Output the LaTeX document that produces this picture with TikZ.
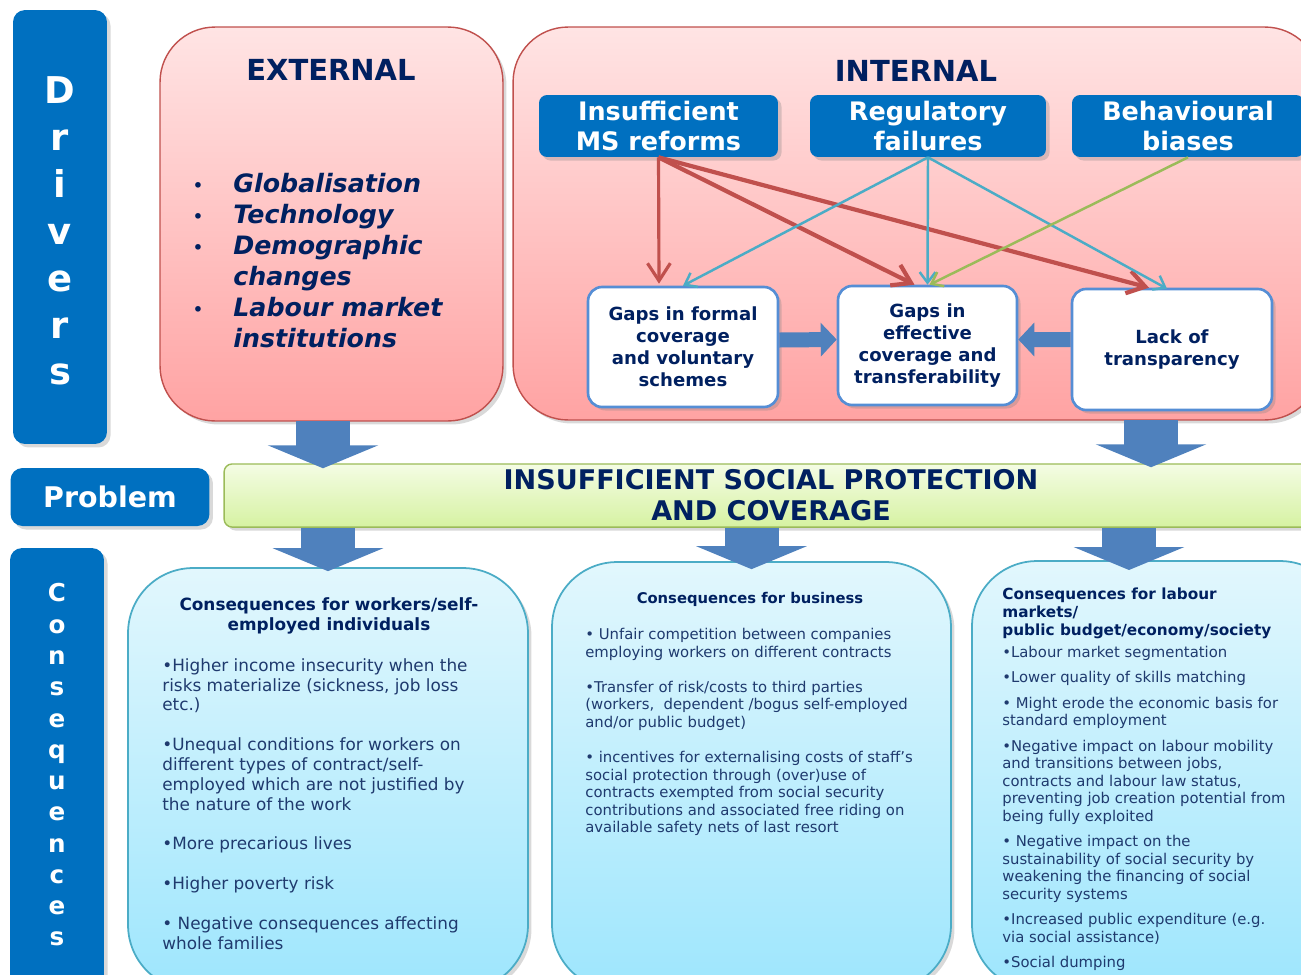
\documentclass[tikz,border=0pt]{standalone}
\usepackage{fontspec}
\setmainfont{DejaVu Sans}
\usetikzlibrary{arrows.meta,calc,shadows}

\definecolor{msblue}{HTML}{0070C0}
\definecolor{navy}{HTML}{002060}
\definecolor{textnavy}{HTML}{1F3A6E}
\definecolor{arrblue}{HTML}{4F81BD}
\definecolor{boxblue}{HTML}{558ED5}
\definecolor{redline}{HTML}{C0504D}
\definecolor{cyanline}{HTML}{4BACC6}
\definecolor{greenline}{HTML}{9BBB59}
\definecolor{pinktop}{HTML}{FFE4E4}
\definecolor{pinkbot}{HTML}{FFA3A3}
\definecolor{limetop}{HTML}{F4FCE4}
\definecolor{limebot}{HTML}{D6F2A2}
\definecolor{skytop}{HTML}{E2F7FD}
\definecolor{skybot}{HTML}{9EE6FD}

\tikzset{
	softshadow/.style={drop shadow={opacity=0.3,shadow xshift=2pt,shadow yshift=-2pt}},
	sidebox/.style={rectangle, rounded corners=0.24cm, fill=msblue, text=white, align=center, inner sep=0pt, softshadow},
	sidetext/.style={text=white, align=center, inner sep=0pt},
	pinkbox/.style={rectangle, rounded corners=1.1cm, top color=pinktop, bottom color=pinkbot, draw=redline, line width=0.8pt, softshadow},
	hdrbox/.style={rectangle, rounded corners=0.16cm, fill=msblue, text=white, align=center, inner sep=0pt, minimum height=1.24cm, font=\fontsize{14.5}{17.6}\selectfont\bfseries, softshadow},
	gapbox/.style={rectangle, rounded corners=0.28cm, fill=white, draw=boxblue, line width=1.5pt, text=navy, align=center, inner sep=0pt, font=\fontsize{10.3}{12.5}\selectfont\bfseries, softshadow},
	limebar/.style={rectangle, rounded corners=0.16cm, top color=limetop, bottom color=limebot, draw=greenline, line width=0.8pt, text=navy, align=center, font=\fontsize{15.4}{17.6}\selectfont\bfseries, softshadow},
	skybox/.style={rectangle, rounded corners=1.3cm, top color=skytop, bottom color=skybot, draw=cyanline, line width=1pt, softshadow},
	bigtitle/.style={text=navy, font=\fontsize{16.5}{20}\selectfont\bfseries},
	contitle/.style={text=navy, align=center, inner sep=0pt},
	conbody/.style={text=textnavy, align=left, anchor=north west, inner sep=0pt},
	redarr/.style={draw=redline, line width=2.4pt, -{Straight Barb[length=10pt,width=13pt]}},
	cyanarr/.style={draw=cyanline, line width=1.4pt, -{Straight Barb[length=6pt,width=9pt]}},
	greenarr/.style={draw=greenline, line width=1.4pt, -{Straight Barb[length=6pt,width=9pt]}},
	sidearr/.style={draw=arrblue, line width=0.3cm, -{Triangle[length=0.32cm,width=0.66cm]}},
	downarr/.style={draw=arrblue, line width=1.08cm, -{Triangle[length=0.46cm,width=2.2cm]}}
}
\newcommand{\extbullet}{\makebox[0.82cm][l]{\fontsize{11}{11}\selectfont\mdseries\upshape •}}

\begin{document}
\begin{tikzpicture}[x=0.02cm, y=-0.02cm]
	\useasboundingbox (0,0) rectangle (1301,974);
	\clip (0,0) rectangle (1301,974);

	\node[sidebox, minimum width=1.88cm, minimum height=8.68cm] (drivers) at (60,227) {};
	\node[sidetext, font=\fontsize{21}{26.7}\selectfont\bfseries] (driverstxt) at (60,231) {D\\r\\i\\v\\e\\r\\s};
	\node[sidebox, minimum width=3.98cm, minimum height=1.16cm, font=\fontsize{16.2}{18}\selectfont\bfseries] (problemlbl) at (110,497) {Problem};
	\node[sidebox, minimum width=1.88cm, minimum height=8.84cm] (conslbl) at (57,769) {};
	\node[sidetext, font=\fontsize{14}{17.8}\selectfont\bfseries] (conslbltxt) at (57,765) {C\\o\\n\\s\\e\\q\\u\\e\\n\\c\\e\\s};

	\node[pinkbox, minimum width=6.86cm, minimum height=7.88cm] (external) at (331.5,224) {};
	\node[bigtitle] (exttitle) at (331,70) {EXTERNAL};
	\node[anchor=north west, inner sep=0pt, align=left, text=navy, font=\fontsize{14.4}{17.6}\selectfont\bfseries\itshape] (extlist) at (192,173)
		{\extbullet Globalisation\\
		 \extbullet Technology\\
		 \extbullet Demographic\\
		 \hspace*{0.82cm}changes\\
		 \extbullet Labour market\\
		 \hspace*{0.82cm}institutions};

	\node[pinkbox, minimum width=16.14cm, minimum height=7.86cm] (internal) at (916.5,223.5) {};
	\node[bigtitle] (inttitle) at (916,71) {INTERNAL};

	\node[hdrbox, minimum width=4.78cm] (msref) at (658.5,126) {Insufficient\\MS reforms};
	\node[hdrbox, minimum width=4.72cm] (regfail) at (928,126) {Regulatory\\failures};
	\node[hdrbox, minimum width=4.64cm] (behav) at (1188,126) {Behavioural\\biases};

	\node[gapbox, minimum width=3.8cm, minimum height=2.4cm] (gapformal) at (683,347) {Gaps in formal\\coverage\\and voluntary\\schemes};
	\node[gapbox, minimum width=3.58cm, minimum height=2.38cm] (gapeff) at (927.5,345.5) {Gaps in\\effective\\coverage and\\transferability};
	\node[gapbox, minimum width=4.0cm, minimum height=2.42cm] (lacktr) at (1172,349.5) {Lack of\\transparency};

	\draw[redarr, line width=1.8pt] (msref.south) -- ($(gapformal.north)+(-24,-2)$);
	\draw[redarr] (msref.south) -- ($(gapeff.north)+(-13,0)$);
	\draw[redarr] (msref.south) -- ($(lacktr.north)+(-23,0)$);
	\draw[cyanarr] (regfail.south) -- (gapformal.north);
	\draw[cyanarr] (regfail.south) -- (gapeff.north);
	\draw[cyanarr] (regfail.south) -- ($(lacktr.north)+(-5,1)$);
	\draw[greenarr] (behav.south) -- ($(gapeff.north)+(2,0)$);

	\draw[sidearr] ([yshift=0.14cm]gapformal.east) -- ([yshift=0.12cm]gapeff.west);
	\draw[sidearr] ([yshift=0.2cm]lacktr.west) -- ([yshift=0.12cm]gapeff.east);

	\node[limebar, minimum width=21.88cm, minimum height=1.26cm] (problem) at (771,495.5) {INSUFFICIENT SOCIAL PROTECTION\\AND COVERAGE};

	\coordinate (extdrop) at (323,421);
	\coordinate (intdrop) at (1151,420);
	\draw[downarr, shorten >=-0.1cm] (extdrop) -- (extdrop |- problem.north);
	\draw[downarr, shorten >=-0.08cm] (intdrop) -- (intdrop |- problem.north);

	\node[skybox, minimum width=8cm, minimum height=8.44cm] (conw) at (328,779) {};
	\node[skybox, minimum width=7.98cm, minimum height=8.56cm] (conb) at (751.5,776) {};
	\node[skybox, minimum width=7.46cm, minimum height=8.58cm] (conl) at (1158.5,775.5) {};
	\coordinate (conltop) at (1129,561);

	\draw[downarr, shorten >=-0.08cm] (problem.south -| conw.north) -- (conw.north);
	\draw[downarr, shorten >=-0.16cm] (problem.south -| conb.north) -- (conb.north);
	\draw[downarr, shorten >=-0.18cm] (problem.south -| conltop) -- (conltop);

	\node[contitle, font=\fontsize{9.6}{11.2}\selectfont\bfseries] (conwtitle) at (329,616) {Consequences for workers/self-\\employed individuals};
	\node[conbody, font=\fontsize{9.6}{11.3}\selectfont] (conwtext) at (162,658)
		{•Higher income insecurity when the\\
		 risks materialize (sickness, job loss\\
		 etc.)\\[11.3pt]
		 •Unequal conditions for workers on\\
		 different types of contract/self-\\
		 employed which are not justified by\\
		 the nature of the work\\[11.3pt]
		 •More precarious lives\\[11.3pt]
		 •Higher poverty risk\\[11.3pt]
		 • Negative consequences affecting\\
		 whole families};

	\node[contitle, font=\fontsize{8.4}{10}\selectfont\bfseries] (conbtitle) at (750,599) {Consequences for business};
	\node[conbody, font=\fontsize{8.45}{10}\selectfont] (conbtext) at (585,628)
		{• Unfair competition between companies\\
		 employing workers on different contracts\\[10pt]
		 •Transfer of risk/costs to third parties\\
		 (workers,\ \ dependent /bogus self-employed\\
		 and/or public budget)\\[10pt]
		 • incentives for externalising costs of staff's\\
		 social protection through (over)use of\\
		 contracts exempted from social security\\
		 contributions and associated free riding on\\
		 available safety nets of last resort};

	\node[contitle, align=left, anchor=north west, font=\fontsize{8.7}{10.2}\selectfont\bfseries] (conltitle) at (1002,588) {Consequences for labour\\markets/\\public budget/economy/society};
	\node[conbody, font=\fontsize{8.45}{10}\selectfont] (conltext) at (1002,646)
		{•Labour market segmentation\\[4.4pt]
		 •Lower quality of skills matching\\[4.4pt]
		 • Might erode the economic basis for\\
		 standard employment\\[4.4pt]
		 •Negative impact on labour mobility\\
		 and transitions between jobs,\\
		 contracts and labour law status,\\
		 preventing job creation potential from\\
		 being fully exploited\\[4.4pt]
		 • Negative impact on the\\
		 sustainability of social security by\\
		 weakening the financing of social\\
		 security systems\\[4.4pt]
		 •Increased public expenditure (e.g.\\
		 via social assistance)\\[4.4pt]
		 •Social dumping};
\end{tikzpicture}
\end{document}
